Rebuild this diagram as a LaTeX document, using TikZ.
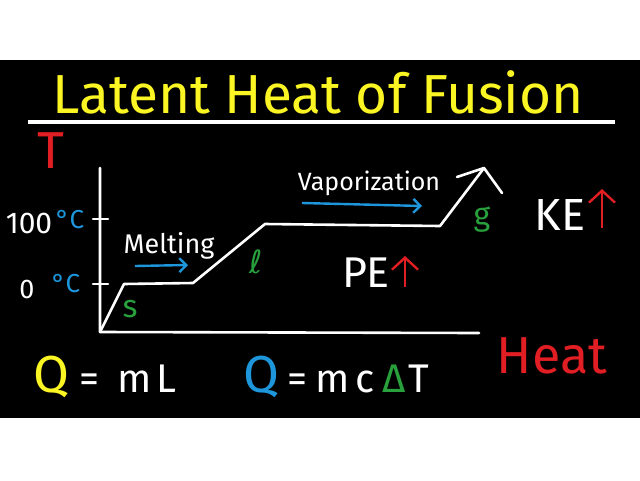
\documentclass[tikz,border=0pt]{standalone}
\usepackage{fontspec}
\setmainfont{Fira Sans}
\newfontfamily\dejavu{DejaVu Sans}
\usepackage{tikz}
\usetikzlibrary{arrows.meta,positioning,calc}
\usepackage{xcolor}
\definecolor{chalkyellow}{RGB}{250,245,35}
\definecolor{chalkblue}{RGB}{30,150,220}
\definecolor{chalkgreen}{RGB}{40,160,60}
\definecolor{chalkred}{RGB}{225,30,35}
\newcommand{\fsz}[1]{\fontsize{#1}{#1}\selectfont}
\tikzset{
  chalk/.style={white, line width=2.6pt, line cap=round, line join=round},
  lbl/.style={text=white, inner sep=0pt, anchor=base},
  phase/.style={lbl, text=chalkgreen, font=\fsz{32}},
  unit/.style={lbl, text=chalkblue, font=\fsz{26}},
  flow/.style={-{Straight Barb[length=7pt,width=14pt]}, chalkblue, line width=2.4pt},
  rise/.style={-{Straight Barb[length=12pt,width=26pt]}, chalkred, line width=2.4pt},
}

\begin{document}
\begin{tikzpicture}[x=1pt, y=-1pt]
  \fill[white] (0,0) rectangle (640,480);
  \fill[black] (0,60) rectangle (640,418);

  % title
  \node[lbl, text=chalkyellow, font=\fsz{55}] (title) at (318,113) {Latent Heat of Fusion};
  \draw[white, line width=3.4pt] (28,122) -- (615,122);

  % axes
  \coordinate (origin) at (100,332);
  \coordinate (ytop) at (100,168);
  \coordinate (xend) at (479,333);
  \draw[chalk] (ytop) -- (origin) -- (xend);
  \foreach \y in {219,284}
    \draw[chalk] (93,\y) -- (108,\y);
  \node[lbl, text=chalkred, font=\fsz{52}] (temp) at (51,168) {T};
  \node[lbl, text=chalkred, font=\fsz{52}] (heat) at (552,373) {Heat};

  \node[lbl, font=\fsz{30}] (boil) at (29,233) {100};
  \node[unit] (boilu) at (70,228) {°C};
  \node[lbl, font=\fsz{27}] (freeze) at (27,298) {0};
  \node[unit] (freezeu) at (66,292) {°C};

  % heating curve
  \coordinate (s1) at (124,284);
  \coordinate (m1) at (193,283);
  \coordinate (m2) at (265,224);
  \coordinate (v1) at (440,226);
  \coordinate (v2) at (484,168);
  \coordinate (barbl) at (457,177);
  \coordinate (barbr) at (502,193);
  \draw[chalk] (origin) -- (s1) -- (m1) -- (m2) -- (v1) -- (v2);
  \draw[chalk] (barbl) -- (v2) -- (barbr);

  \node[phase] (solid) at (130,317) {s};
  \node[phase, font=\dejavu\fsz{32}] (liquid) at (256,273) {ℓ};
  \node[phase] (gas) at (482,225) {g};

  % phase changes
  \node[lbl, font=\fsz{27}] (melt) at (169,253) {Melting};
  \coordinate (melta) at (135,266);
  \coordinate (meltb) at (188,265);
  \draw[flow] (melta) -- (meltb);
  \node[lbl, font=\fsz{25}] (vap) at (369,190) {Vaporization};
  \coordinate (vapa) at (302,203);
  \coordinate (vapb) at (422,206);
  \draw[flow] (vapa) -- (vapb);

  % energies
  \node[lbl, font=\fsz{45}] (ke) at (560,230) {KE};
  \coordinate (kea) at (602,228);
  \coordinate (keb) at (602,189);
  \draw[rise] (kea) -- (keb);
  \node[lbl, font=\fsz{43}] (pe) at (366,287) {PE};
  \coordinate (pea) at (405,287);
  \coordinate (peb) at (405,256);
  \draw[rise] (pea) -- (peb);

  % equations
  \node[lbl, anchor=base west, font=\fsz{40}] (latent) at (33,392)
    {{\color{chalkyellow}\fsz{52}Q}\hspace{10pt}=\hspace{18pt}m\hspace{5pt}L};
  \node[lbl, anchor=base west, font=\fsz{40}] (sensible) at (243,392)
    {{\color{chalkblue}\fsz{52}Q}\hspace{8pt}=\hspace{8pt}m\hspace{6pt}c\hspace{8pt}{\color{chalkgreen}Δ}\hspace{3pt}T};
\end{tikzpicture}
\end{document}
